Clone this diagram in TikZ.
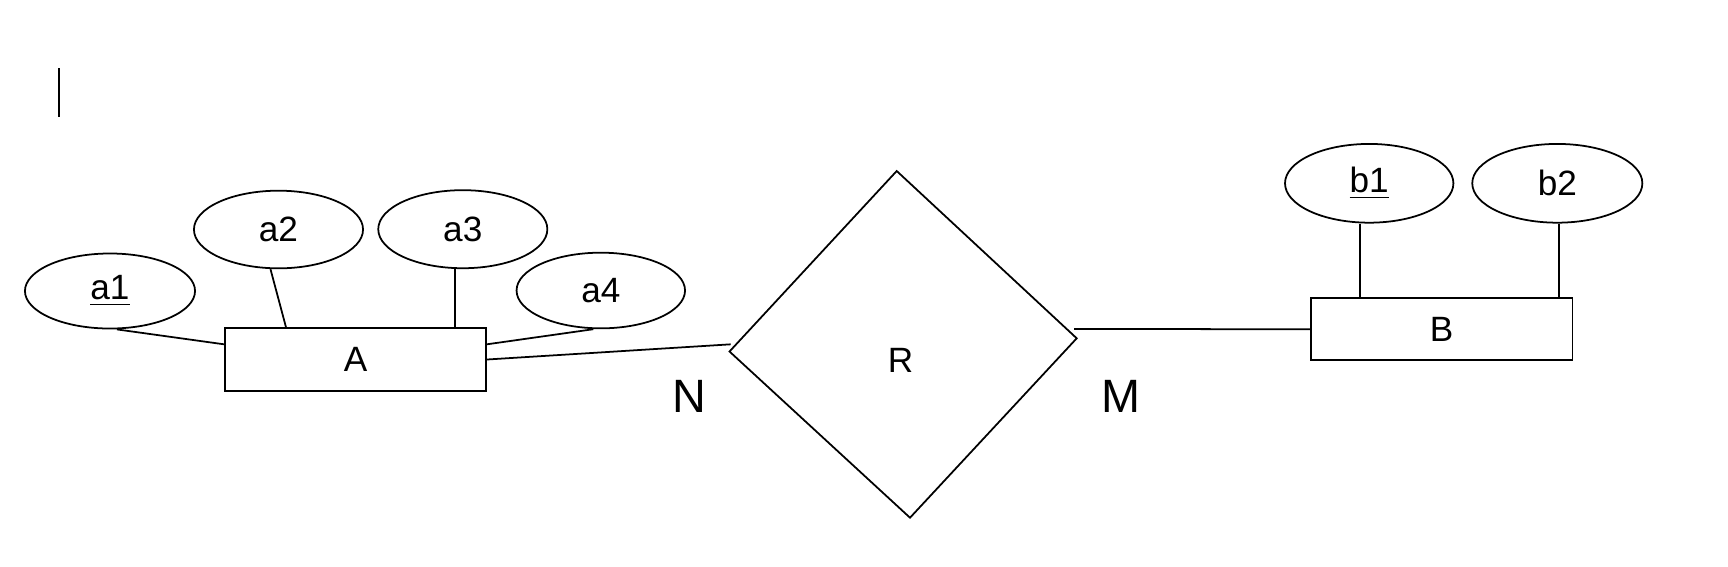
\documentclass[tikz,border=0pt]{standalone}
\usepackage{fontspec}
\setmainfont{Liberation Sans}
\usetikzlibrary{shapes.geometric,calc}
\begin{document}
\begin{tikzpicture}[x=0.01cm,y=-0.01cm,line width=0.5pt,
  attr/.style={ellipse,draw,inner sep=0pt,font=\fontsize{10}{12}\selectfont},
  ent/.style={rectangle,draw,inner sep=0pt,font=\fontsize{10}{12}\selectfont},
  card/.style={inner sep=0pt,font=\fontsize{13.3}{16}\selectfont},
  rel/.style={inner sep=0pt,font=\fontsize{10}{12}\selectfont},
  conn/.style={line width=0.5pt}]
\useasboundingbox (0,0) rectangle (1728,566);
% text cursor bar
\draw[line width=0.85pt] (59,68) -- (59,117);
% entities
\node[ent,minimum width=2.61cm,minimum height=0.624cm] (A) at (355.5,359.5) {A};
\node[ent,minimum width=2.616cm,minimum height=0.617cm] (B) at (1441.5,329.2) {B};
% attributes
\node[attr,minimum width=1.70cm,minimum height=0.75cm] (a1) at (110,291) {\underline{a1}};
\node[attr,minimum width=1.69cm,minimum height=0.776cm] (a2) at (278.5,229.5) {a2};
\node[attr,minimum width=1.69cm,minimum height=0.78cm] (a3) at (462.8,229.2) {a3};
\node[attr,minimum width=1.684cm,minimum height=0.756cm] (a4) at (600.8,290.5) {a4};
\node[attr,minimum width=1.683cm,minimum height=0.787cm] (b1) at (1369.2,183.3) {\underline{b1}};
\node[attr,minimum width=1.70cm,minimum height=0.787cm] (b2) at (1557.3,183.3) {b2};
% relationship (irregular diamond)
\coordinate (Rl) at (729.5,351.5);
\coordinate (Rt) at (896.7,171);
\coordinate (Rr) at (1076.7,338.3);
\coordinate (Rb) at (910,517.7);
\draw (Rl) -- (Rt) -- (Rr) -- (Rb) -- cycle;
\node[rel] (R) at (900.5,360.5) {R};
\coordinate (Rin) at (730.7,344.3);
\coordinate (Rout) at (1074,329);
% cardinalities
\node[card] (N) at (689.5,396) {N};
\node[card] (M) at (1120.8,396) {M};
% connectors
\draw[conn] ($(a1.south)+(7,0)$) -- ($(A.west)+(0,-15.2)$);
\draw[conn] ($(a2.south)+(-8,0)$) -- ($(A.north west)+(62,0)$);
\coordinate (p3) at ($(a3.south)+(-7.8,0)$);
\draw[conn] (p3) -- (p3 |- A.north);
\draw[conn] ($(a4.south)+(-7.5,0)$) -- ($(A.east)+(0,-15.2)$);
\draw[conn] (A.east) -- (Rin);
\draw[conn] (Rout) -- (B.west);
\coordinate (q1) at ($(b1.south)+(-9.2,0)$);
\draw[conn] (q1) -- (q1 |- B.north);
\coordinate (q2) at ($(b2.south)+(1.7,0)$);
\draw[conn] (q2) -- (q2 |- B.north);
\end{tikzpicture}
\end{document}
